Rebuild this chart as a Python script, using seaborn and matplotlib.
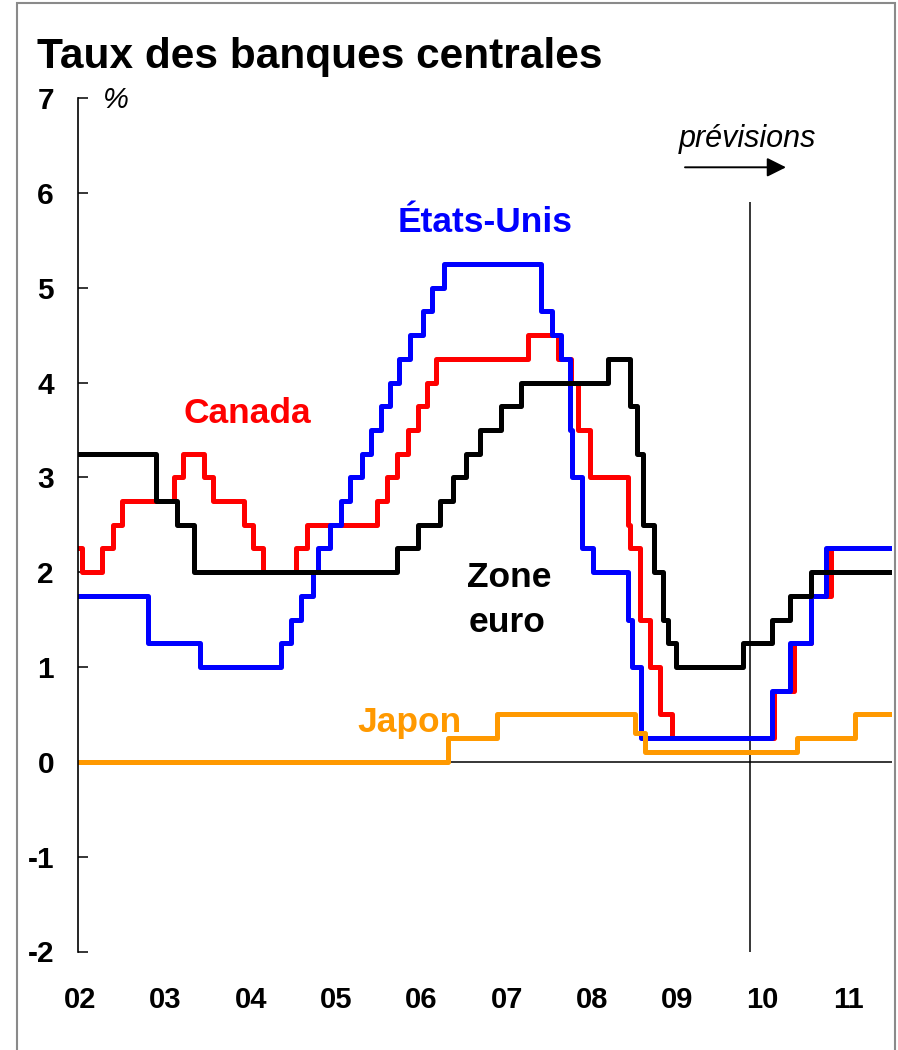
"""
Taux des banques centrales - step chart of policy rates (2002-2011)
"""

import numpy as np
import pandas as pd
import matplotlib
matplotlib.use('Agg')
import matplotlib.pyplot as plt
from matplotlib.patches import Rectangle
import seaborn as sns

sns.set_style('white')
plt.rcParams['font.family'] = ['Liberation Sans', 'DejaVu Sans']
plt.rcParams['text.color'] = 'black'
plt.rcParams['axes.labelcolor'] = 'black'
plt.rcParams['xtick.color'] = 'black'
plt.rcParams['ytick.color'] = 'black'

# --- data (decimal year of each rate change, new rate in %) ---
END_DATE = 2012.0

CANADA_DATES = [2002.00, 2002.04, 2002.29, 2002.43, 2002.54, 2003.17, 2003.29,
                2003.54, 2003.66, 2004.03, 2004.15, 2004.27, 2004.68, 2004.81,
                2005.67, 2005.79, 2005.92, 2006.05, 2006.17, 2006.29, 2006.40,
                2007.52, 2007.89, 2008.05, 2008.14, 2008.29, 2008.76, 2008.78,
                2008.90, 2009.03, 2009.15, 2009.29, 2010.55, 2010.80, 2011.00,
                2011.25]
CANADA_RATES = [2.25, 2.0, 2.25, 2.5, 2.75, 3.0, 3.25,
                3.0, 2.75, 2.5, 2.25, 2.0, 2.25, 2.5,
                2.75, 3.0, 3.25, 3.5, 3.75, 4.0, 4.25,
                4.5, 4.25, 4.0, 3.5, 3.0, 2.5, 2.25,
                1.5, 1.0, 0.5, 0.25, 0.75, 1.25, 1.75,
                2.25]

US_DATES = [2002.00, 2002.86, 2003.49, 2004.49, 2004.61, 2004.73, 2004.88,
            2004.95, 2005.09, 2005.23, 2005.34, 2005.48, 2005.60, 2005.72,
            2005.83, 2005.94, 2006.08, 2006.24, 2006.35, 2006.49, 2007.69,
            2007.82, 2007.93, 2008.04, 2008.07, 2008.19, 2008.32, 2008.76,
            2008.80, 2008.92, 2010.53, 2010.75, 2011.01, 2011.19]
US_RATES = [1.75, 1.25, 1.0, 1.25, 1.5, 1.75, 2.0,
            2.25, 2.5, 2.75, 3.0, 3.25, 3.5, 3.75,
            4.0, 4.25, 4.5, 4.75, 5.0, 5.25, 4.75,
            4.5, 4.25, 3.5, 3.0, 2.25, 2.0, 1.5,
            1.0, 0.25, 0.75, 1.25, 1.75, 2.25]

EURO_DATES = [2002.00, 2002.95, 2003.21, 2003.42, 2005.92, 2006.17, 2006.44,
              2006.60, 2006.77, 2006.94, 2007.19, 2007.44, 2008.51, 2008.78,
              2008.86, 2008.94, 2009.07, 2009.19, 2009.25, 2009.35, 2010.17,
              2010.53, 2010.75, 2011.00]
EURO_RATES = [3.25, 2.75, 2.5, 2.0, 2.25, 2.5, 2.75,
              3.0, 3.25, 3.5, 3.75, 4.0, 4.25, 3.75,
              3.25, 2.5, 2.0, 1.5, 1.25, 1.0, 1.25,
              1.5, 1.75, 2.0]

JAPAN_DATES = [2002.00, 2006.54, 2007.14, 2008.84, 2008.96, 2010.83, 2011.55]
JAPAN_RATES = [0.0, 0.25, 0.5, 0.3, 0.1, 0.25, 0.5]

FORECAST_START = 2010.255

SERIES = ['Canada', 'États-Unis', 'Zone euro', 'Japon']
COLORS = {'Canada': '#FF0000', 'États-Unis': '#0000FF',
          'Zone euro': '#000000', 'Japon': '#FF9900'}
X_LABELS = ['02', '03', '04', '05', '06', '07', '08', '09', '10', '11']
Y_TICKS = [-2, -1, 0, 1, 2, 3, 4, 5, 6, 7]


def build_frame():
    frames = []
    for name, dates, rates in [('Canada', CANADA_DATES, CANADA_RATES),
                               ('États-Unis', US_DATES, US_RATES),
                               ('Zone euro', EURO_DATES, EURO_RATES),
                               ('Japon', JAPAN_DATES, JAPAN_RATES)]:
        # hold the last rate until the end of the sample
        d = list(dates) + [END_DATE]
        r = list(rates) + [rates[-1]]
        frames.append(pd.DataFrame({'date': d, 'rate': r, 'series': name}))
    return pd.concat(frames, ignore_index=True)


W, H = 898, 1050


def fxy(px, py):
    """pixel position (from top-left) -> figure fraction"""
    return px / W, 1 - py / H


df = build_frame()

fig = plt.figure(figsize=(W / 100, H / 100), dpi=100)
ax = fig.add_axes([78.4 / W, 1 - 951.5 / H, (892 - 78.4) / W, (951.5 - 98) / H])

sns.lineplot(data=df, x='date', y='rate', hue='series', hue_order=SERIES,
             palette=COLORS, estimator=None, drawstyle='steps-post',
             linewidth=3.6, legend=False, ax=ax)

ax.set_xlim(2002.0, END_DATE)
ax.set_ylim(-2, 7)

# zero line and forecast marker
ax.axhline(0, color='black', linewidth=1.1, zorder=1)
ax.vlines(FORECAST_START, -2, 5.9, color='black', linewidth=1.1, zorder=1)

# axes styling
for side in ['top', 'right', 'bottom']:
    ax.spines[side].set_visible(False)
ax.spines['left'].set_linewidth(1.2)
ax.spines['left'].set_color('black')

ax.set_yticks(Y_TICKS)
ax.set_yticklabels([str(v) for v in Y_TICKS], fontsize=21.5, fontweight='bold')
ax.tick_params(axis='y', direction='in', length=7, width=1.1, pad=17.5,
               left=True, colors='black')

ax.set_xticks(np.linspace(2002.02, 2011.46, len(X_LABELS)))
ax.set_xticklabels(X_LABELS, fontsize=21, fontweight='bold')
ax.tick_params(axis='x', length=0, pad=24.5, colors='black')
ax.set_xlabel('')
ax.set_ylabel('')
ax.grid(False)

# texts
fig.text(*fxy(37, 68), 'Taux des banques centrales', fontsize=30.5,
         fontweight='bold', ha='left', va='baseline', color='black')
fig.text(*fxy(103, 108), '%', fontsize=21, fontstyle='italic',
         ha='left', va='baseline', color='black')
fig.text(*fxy(747, 146.7), 'prévisions', fontsize=22, fontstyle='italic',
         ha='center', va='baseline', color='black')
ax.annotate('', xy=fxy(786, 167.3), xytext=fxy(685, 167.3),
            xycoords='figure fraction', textcoords='figure fraction',
            arrowprops=dict(arrowstyle='-|>', mutation_scale=29, lw=1.4,
                            color='black', shrinkA=0, shrinkB=0))

label_kw = dict(fontsize=25.5, fontweight='bold', ha='center', va='baseline')
fig.text(*fxy(485, 232), 'États-Unis', color=COLORS['États-Unis'], **label_kw)
fig.text(*fxy(247, 423), 'Canada', color=COLORS['Canada'], **label_kw)
fig.text(*fxy(509, 586.7), 'Zone', color=COLORS['Zone euro'], **label_kw)
fig.text(*fxy(507, 631.7), 'euro', color=COLORS['Zone euro'], **label_kw)
fig.text(*fxy(410, 732), 'Japon', color=COLORS['Japon'], **label_kw)

# grey frame around the chart
fig.add_artist(Rectangle(fxy(17, 1060), (895 - 17) / W, (1060 - 3) / H,
                         transform=fig.transFigure, fill=False,
                         edgecolor='#8a8a8a', linewidth=1.5))

fig.savefig('out.png', dpi=100)
plt.close(fig)
